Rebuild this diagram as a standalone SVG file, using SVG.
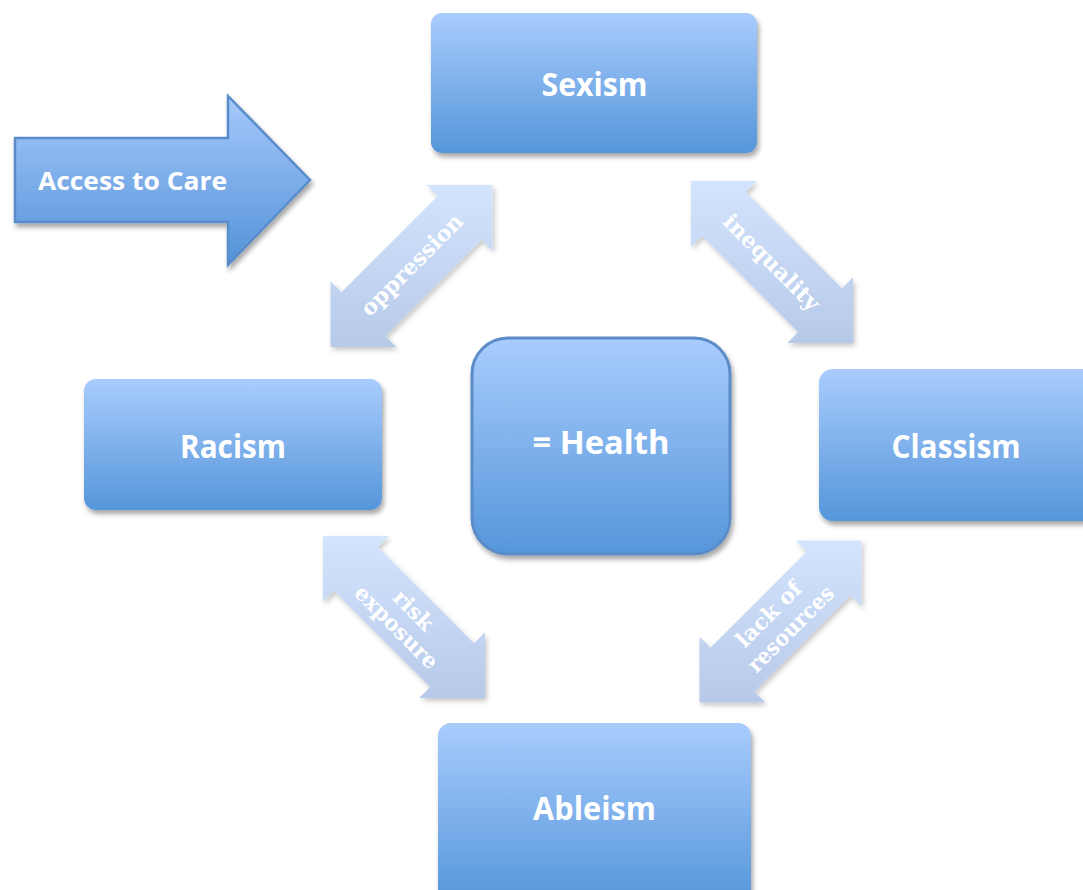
<svg xmlns="http://www.w3.org/2000/svg" width="1083" height="890" viewBox="0 0 1083 890">
  <defs>
    <linearGradient id="boxGrad" x1="0" y1="0" x2="0" y2="1">
      <stop offset="0" stop-color="#a9ccfd"/>
      <stop offset="1" stop-color="#5596da"/>
    </linearGradient>
    <linearGradient id="arrowGrad" x1="0" y1="0" x2="0" y2="1">
      <stop offset="0" stop-color="#a6c9fb"/>
      <stop offset="1" stop-color="#5392d8"/>
    </linearGradient>
    <linearGradient id="diagGrad" x1="0" y1="0" x2="0" y2="1">
      <stop offset="0" stop-color="#d3e4fd"/>
      <stop offset="1" stop-color="#b6c9e8"/>
    </linearGradient>
    <filter id="shadow" x="-10%" y="-10%" width="130%" height="130%">
      <feDropShadow dx="2" dy="4" stdDeviation="2.5" flood-color="#000" flood-opacity="0.35"/>
    </filter>
    <filter id="shadowLight" x="-10%" y="-10%" width="130%" height="130%">
      <feDropShadow dx="2" dy="3" stdDeviation="2.5" flood-color="#000" flood-opacity="0.22"/>
    </filter>
    <path id="diagA" d="M -81 81 L -81 15.2 L -70 26.2 L 26.2 -70 L 15.2 -81 L 81 -81 L 81 -15.2 L 70 -26.2 L -26.2 70 L -15.2 81 Z"/>
    <path id="diagB" d="M 81 81 L 81 15.2 L 70 26.2 L -26.2 -70 L -15.2 -81 L -81 -81 L -81 -15.2 L -70 -26.2 L 26.2 70 L 15.2 81 Z"/>
  </defs>
  <style>
    .box { fill: url(#boxGrad); filter: url(#shadow); }
    .lbl { font-family: "Open Sans", "Noto Sans", "DejaVu Sans", sans-serif; font-weight: bold; font-size: 33px; fill: #ffffff; text-anchor: middle; }
    .small { font-size: 25.5px; }
    .diag { fill: url(#diagGrad); filter: url(#shadowLight); }
    .dlbl { font-family: "DejaVu Serif", "Liberation Serif", serif; font-weight: bold; font-size: 22px; fill: #ffffff; text-anchor: middle; }
  </style>
  <rect width="1083" height="890" fill="#ffffff"/>

  <g id="connectors">
    <g id="arrow-oppression" transform="translate(411.5,266)">
      <use href="#diagA" class="diag"/>
      <text class="dlbl" transform="rotate(-45)" x="1" y="7" textLength="134" lengthAdjust="spacingAndGlyphs">oppression</text>
    </g>
    <g id="arrow-inequality" transform="translate(772,262)">
      <use href="#diagB" class="diag"/>
      <text class="dlbl" transform="rotate(45)" x="0" y="8" textLength="126" lengthAdjust="spacingAndGlyphs">inequality</text>
    </g>
    <g id="arrow-risk" transform="translate(404,617)">
      <use href="#diagB" class="diag"/>
      <text class="dlbl" transform="rotate(45)" x="2" y="-4">risk</text>
      <text class="dlbl" transform="rotate(45)" x="2" y="20" textLength="108" lengthAdjust="spacingAndGlyphs">exposure</text>
    </g>
    <g id="arrow-resources" transform="translate(780.5,621.5)">
      <use href="#diagA" class="diag"/>
      <text class="dlbl" transform="rotate(-45)" x="-3" y="-6">lack of</text>
      <text class="dlbl" transform="rotate(-45)" x="2" y="20" textLength="112" lengthAdjust="spacingAndGlyphs">resources</text>
    </g>
  </g>

  <g id="node-access">
    <path d="M 15 138 L 228 138 L 228 96 L 310 180 L 228 265 L 228 222 L 15 222 Z" fill="url(#arrowGrad)" stroke="#5a8cc9" stroke-width="2.5" stroke-linejoin="miter" filter="url(#shadow)"/>
    <text class="lbl small" x="132.5" y="190" textLength="189" lengthAdjust="spacingAndGlyphs">Access to Care</text>
  </g>

  <g id="node-sexism">
    <rect class="box" x="431" y="13" width="326" height="140" rx="11"/>
    <text class="lbl" x="594.5" y="96" textLength="106" lengthAdjust="spacingAndGlyphs">Sexism</text>
  </g>

  <g id="node-racism">
    <rect class="box" x="84" y="379" width="298" height="131" rx="12"/>
    <text class="lbl" x="233" y="458" textLength="106" lengthAdjust="spacingAndGlyphs">Racism</text>
  </g>

  <g id="node-health">
    <rect class="box" x="472" y="338" width="258" height="216" rx="36" stroke="#5b8cc8" stroke-width="3"/>
    <text class="lbl" x="601" y="454" textLength="137" lengthAdjust="spacingAndGlyphs">= Health</text>
  </g>

  <g id="node-classism">
    <rect class="box" x="819" y="369" width="290" height="152" rx="14"/>
    <text class="lbl" x="956" y="458" textLength="129" lengthAdjust="spacingAndGlyphs">Classism</text>
  </g>

  <g id="node-ableism">
    <rect class="box" x="438" y="723" width="313" height="180" rx="13"/>
    <text class="lbl" x="594.5" y="820" textLength="123" lengthAdjust="spacingAndGlyphs">Ableism</text>
  </g>
</svg>
